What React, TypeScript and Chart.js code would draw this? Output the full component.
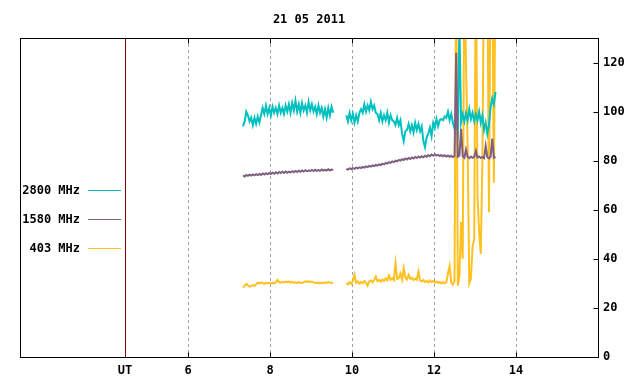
import React, { useEffect, useRef } from 'react';
import { Chart, registerables } from 'chart.js';

Chart.register(...registerables);

const chartTitle = '21 05 2011';
const seriesLabels = ['2800 MHz', '1580 MHz', '403 MHz'];
const seriesColors = ['#00c0c0', '#7f6080', '#ffc020'];
const seriesWidths = [2, 2, 2];
const hourTicks = [6, 8, 10, 12, 14];
const utHour = 4.46;
const utLabel = 'UT';
const yTicks = [0, 20, 40, 60, 80, 100, 120];
const xMin = 1.9;
const xMax = 16;
const yMin = 0;
const yMax = 130;

// sampling of the two recorded stretches (hours UT)
const seg1Start = 7.34;
const seg2Start = 9.86;
const gapHour = 9.7;
const stepHours = 0.04;

// 2800 MHz
const mhz2800Seg1 = [
  94, 96, 100, 98.5, 96, 97.5, 94.5, 97.5, 95, 98,
  95.5, 98.5, 101.5, 99, 102.5, 99, 101.5, 98.5, 102, 99.5,
  101.5, 99, 102.5, 99.5, 101.5, 99, 102.5, 100, 103, 99.5,
  103.5, 100.5, 104.5, 100, 103, 99.5, 103.5, 100.5, 102.5, 99.5,
  104, 100.5, 103, 100, 102, 99, 102.5, 99.5, 101.5, 98,
  101, 97.5, 101.5, 98.5, 102, 99.5,
];
const mhz2800Seg2 = [
  98.5, 96, 99.5, 96.5, 99, 95.5, 98.5, 96, 99.5, 101,
  99.5, 103, 100, 102.5, 100.5, 104, 101, 102.5, 99.5, 99,
  96.5, 99.5, 96, 98.5, 96.5, 99.5, 95.5, 98.5, 96.5, 96,
  94.5, 97.5, 94.5, 96.5, 91, 88, 92, 92.5, 95, 92,
  94.5, 91.5, 95.5, 92.5, 95, 92, 94, 88, 85.5, 89.5,
  91, 93.5, 90, 95.5, 93.5, 97, 94, 96.5, 97, 96.5,
  98, 97.5, 100, 96.5, 99, 95.5, 93, 95.5, 92, 135,
  95.5, 99, 96, 99.5, 96.5, 101, 97, 99.5, 96, 99,
  96.5, 100, 95.5, 98.5, 92.5, 95.5, 91, 94.5, 102, 105.5,
  103, 108,
];

// 1580 MHz
const mhz1580Seg1 = [
  74.0, 73.6, 74.2, 73.8, 74.3, 73.9, 74.4, 74.0, 74.5, 74.1,
  74.6, 74.2, 74.8, 74.4, 74.9, 74.5, 75.0, 74.6, 75.1, 74.7,
  75.3, 74.8, 75.4, 75.0, 75.5, 75.0, 75.6, 75.1, 75.5, 75.2,
  75.7, 75.3, 75.8, 75.4, 75.9, 75.5, 76.0, 75.6, 76.1, 75.7,
  76.0, 75.8, 76.2, 75.8, 76.3, 75.9, 76.2, 75.9, 76.4, 76.0,
  76.3, 76.0, 76.5, 76.1, 76.4, 76.2,
];
const mhz1580Seg2 = [
  76.7, 76.4, 76.9, 76.6, 77.0, 76.7, 77.2, 76.9, 77.3, 77.0,
  77.5, 77.2, 77.7, 77.4, 77.9, 77.6, 78.1, 77.8, 78.3, 78.0,
  78.5, 78.2, 78.8, 78.5, 79.1, 78.8, 79.4, 79.1, 79.7, 79.4,
  80.0, 79.7, 80.3, 80.0, 80.6, 80.3, 80.9, 80.5, 81.1, 80.7,
  81.3, 80.9, 81.5, 81.1, 81.7, 81.3, 81.8, 81.4, 82.0, 81.6,
  82.3, 81.8, 82.5, 82.0, 82.6, 82.1, 82.4, 81.9, 82.3, 81.8,
  82.2, 81.7, 82.1, 81.6, 82.0, 81.5, 81.9, 124, 81.6, 82.0,
  93, 81.8, 81.2, 84.5, 81.5, 81.0, 81.7, 81.2, 81.6, 84,
  81.3, 81.7, 81.1, 81.5, 81.0, 86, 81.4, 80.9, 81.6, 89,
  81.2, 81.5,
];

// 403 MHz
const mhz403Seg1 = [
  28.3, 29.0, 29.8, 29.2, 28.7, 28.9, 29.3, 29.0, 29.6, 30.3,
  30.0, 30.4, 30.1, 29.8, 30.2, 30.0, 30.3, 29.9, 30.2, 30.1,
  30.4, 31.4, 30.5, 30.3, 30.6, 30.4, 30.7, 30.5, 30.8, 30.3,
  30.6, 30.2, 30.4, 30.1, 30.5, 30.3, 30.2, 30.5, 30.8, 30.6,
  30.9, 30.5, 30.7, 30.4, 30.3, 30.1, 30.4, 30.0, 30.3, 30.1,
  30.4, 30.2, 30.5, 30.3, 30.1, 30.4,
];
const mhz403Seg2 = [
  30.1, 29.6, 30.5, 29.8, 31.0, 33.5, 30.2, 30.8, 29.9, 30.6,
  30.1, 31.0, 30.3, 29.1, 30.8, 31.2, 30.4, 31.5, 32.8, 30.9,
  31.4, 30.7, 31.6, 31.0, 32.0, 31.2, 33.3, 31.4, 32.1, 31.3,
  38.2, 31.8, 32.2, 34.0, 31.5, 36.2, 32.4, 31.6, 33.5, 31.9,
  32.3, 31.4, 32.0, 31.5, 34.8, 31.2, 30.8, 31.4, 30.5, 31.0,
  30.4, 31.2, 30.6, 31.0, 30.3, 30.8, 30.2, 30.6, 30.0, 30.5,
  30.1, 30.4, 34.0, 37.1, 30.2, 29.5, 31.0, 165, 29.0, 33,
  55, 40, 165, 119, 86, 30, 32, 45, 48, 165,
  66, 51, 42, 80, 165, 165, 165, 59, 165, 165,
  71, 165,
];

const FONT_FAMILY = '"DejaVu Sans Mono", "Liberation Mono", monospace';

function toPoints(seg1: number[], seg2: number[]) {
  const pts: { x: number; y: number | null }[] = [];
  seg1.forEach((v, i) => pts.push({ x: seg1Start + i * stepHours, y: v }));
  pts.push({ x: gapHour, y: null });
  seg2.forEach((v, i) => pts.push({ x: seg2Start + i * stepHours, y: v }));
  return pts;
}

const decorPlugin = {
  id: 'decor',
  beforeDatasetsDraw(chart: any) {
    const { ctx, chartArea } = chart;
    const xs = chart.scales.x;
    ctx.save();
    ctx.lineWidth = 1;
    ctx.strokeStyle = '#a0a0a0';
    ctx.setLineDash([3, 3]);
    hourTicks.forEach((h) => {
      const px = Math.round(xs.getPixelForValue(h)) + 0.5;
      ctx.beginPath();
      ctx.moveTo(px, chartArea.top);
      ctx.lineTo(px, chartArea.bottom);
      ctx.stroke();
    });
    ctx.setLineDash([]);
    ctx.strokeStyle = '#800000';
    const ux = Math.round(xs.getPixelForValue(utHour)) + 0.5;
    ctx.beginPath();
    ctx.moveTo(ux, chartArea.top);
    ctx.lineTo(ux, chartArea.bottom);
    ctx.stroke();
    ctx.restore();
  },
  afterDatasetsDraw(chart: any) {
    const { ctx, chartArea } = chart;
    const xs = chart.scales.x;
    const ys = chart.scales.y;
    const l = Math.round(chartArea.left) + 0.5;
    const r = Math.round(chartArea.right) + 0.5;
    const t = Math.round(chartArea.top) + 0.5;
    const b = Math.round(chartArea.bottom) + 0.5;
    ctx.save();
    ctx.lineWidth = 1;
    ctx.strokeStyle = '#000';
    ctx.strokeRect(l, t, r - l, b - t);
    // inward tick marks
    ctx.beginPath();
    hourTicks.forEach((h) => {
      const px = Math.round(xs.getPixelForValue(h)) + 0.5;
      ctx.moveTo(px, b);
      ctx.lineTo(px, b - 5);
      ctx.moveTo(px, t);
      ctx.lineTo(px, t + 5);
    });
    yTicks.forEach((v) => {
      const py = Math.round(ys.getPixelForValue(v)) + 0.5;
      ctx.moveTo(r, py);
      ctx.lineTo(r - 5, py);
    });
    ctx.stroke();
    // key
    ctx.font = `bold 12px ${FONT_FAMILY}`;
    ctx.textAlign = 'right';
    ctx.textBaseline = 'middle';
    const rowY = [190, 219, 248];
    chart.data.datasets.forEach((ds: any, i: number) => {
      const y = rowY[i];
      ctx.fillStyle = '#000';
      ctx.fillText(ds.label, 80, y + 1);
      ctx.strokeStyle = ds.borderColor;
      ctx.lineWidth = 1;
      ctx.beginPath();
      ctx.moveTo(88, y + 0.5);
      ctx.lineTo(121, y + 0.5);
      ctx.stroke();
    });
    // title
    ctx.fillStyle = '#000';
    ctx.textAlign = 'center';
    ctx.fillText(chartTitle, (chartArea.left + chartArea.right) / 2, 20);
    ctx.restore();
  },
};

export default function App() {
  const canvasRef = useRef<HTMLCanvasElement | null>(null);

  useEffect(() => {
    if (!canvasRef.current) return;
    const series = [
      toPoints(mhz2800Seg1, mhz2800Seg2),
      toPoints(mhz1580Seg1, mhz1580Seg2),
      toPoints(mhz403Seg1, mhz403Seg2),
    ];
    const chart = new Chart(canvasRef.current, {
      type: 'line',
      data: {
        datasets: series.map((data, i) => ({
          label: seriesLabels[i],
          data,
          borderColor: seriesColors[i],
          backgroundColor: seriesColors[i],
          borderWidth: seriesWidths[i],
          pointRadius: 0,
          tension: 0,
          spanGaps: false,
          order: i === 1 ? 0 : i === 0 ? 1 : 2,
        })),
      },
      options: {
        animation: false,
        responsive: false,
        maintainAspectRatio: false,
        layout: { padding: { left: 20, top: 38, right: 0, bottom: 0 } },
        plugins: {
          legend: { display: false },
          title: { display: false },
          tooltip: { enabled: false },
        },
        scales: {
          x: {
            type: 'linear',
            min: xMin,
            max: xMax,
            afterBuildTicks: (s: any) => {
              s.ticks = [{ value: utHour }, ...hourTicks.map((v) => ({ value: v }))];
            },
            afterFit: (s: any) => {
              s.height = 27;
            },
            ticks: {
              autoSkip: false,
              maxRotation: 0,
              padding: 7,
              color: '#000',
              font: { family: FONT_FAMILY, size: 12, weight: 'bold' },
              callback: (v: any) => (v === utHour ? utLabel : String(v)),
            },
            grid: { display: false, drawTicks: false },
            border: { display: false },
          },
          y: {
            position: 'right',
            min: yMin,
            max: yMax,
            afterBuildTicks: (s: any) => {
              s.ticks = yTicks.map((v) => ({ value: v }));
            },
            afterFit: (s: any) => {
              s.width = 42;
            },
            ticks: {
              padding: 5,
              color: '#000',
              font: { family: FONT_FAMILY, size: 12, weight: 'bold' },
            },
            grid: { display: false, drawTicks: false },
            border: { display: false },
          },
        },
      } as any,
      plugins: [decorPlugin],
    });
    return () => chart.destroy();
  }, []);

  return (
    <div style={{ position: 'fixed', left: 0, top: 0, width: 640, height: 384, background: '#fff' }}>
      <canvas ref={canvasRef} width={640} height={384} style={{ width: 640, height: 384 }} />
    </div>
  );
}
